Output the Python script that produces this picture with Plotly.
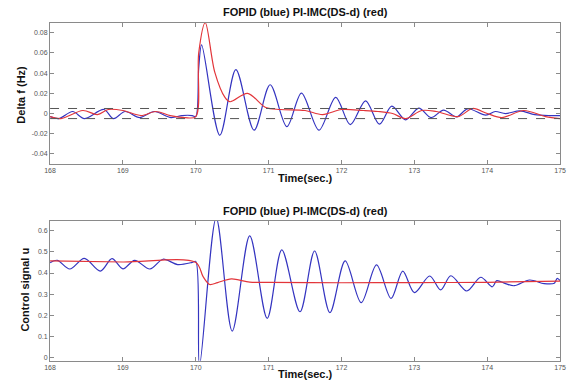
import plotly.graph_objects as go

# ---- data ----
top_blue_t = [168.0, 168.12, 168.31, 168.47, 168.74, 168.87, 169.03, 169.23, 169.43, 169.66, 169.81, 169.95, 170.0,
              170.04, 170.08, 170.33, 170.55, 170.80, 171.02, 171.25, 171.45, 171.69, 171.92, 172.12, 172.33, 172.52,
              172.69, 172.88, 173.06, 173.23, 173.40, 173.58, 173.73, 173.98, 174.11, 174.25, 174.45, 174.65, 174.85, 175.0]
top_blue_v = [-0.003, -0.005, 0.002, -0.005, 0.004, -0.005, 0.002, -0.004, 0.002, -0.004, -0.002, -0.002, -0.003,
              0.045, 0.068, -0.0215, 0.0435, -0.0165, 0.0285, -0.013, 0.0203, -0.0165, 0.016, -0.011, 0.0126, -0.0105,
              0.0073, -0.0063, 0.0054, -0.004, 0.0034, -0.0033, 0.0047, -0.0016, 0.002, 0.0, 0.0027, -0.001, -0.002, -0.002]

top_red_t = [168.0, 168.15, 168.45, 168.65, 168.8, 169.0, 169.25, 169.45, 169.65, 169.85, 170.0,
             170.04, 170.13, 170.26, 170.40, 170.47, 170.71, 170.96, 171.16, 171.5, 171.74, 172.0, 172.3, 172.5,
             172.7, 172.88, 173.1, 173.3, 173.6, 173.8, 174.0, 174.2, 174.5, 174.8, 175.0]
top_red_v = [-0.003, -0.005, 0.003, -0.001, 0.004, 0.003, -0.002, 0.002, -0.002, -0.004, -0.003,
             0.06, 0.09, 0.041, 0.016, 0.0117, 0.020, 0.006, 0.004, 0.003, -0.001, 0.004, 0.003, 0.002,
             0.0, -0.005, 0.003, 0.002, -0.003, 0.005, 0.0, -0.004, 0.003, -0.003, -0.005]

band_t = [168, 175]
band_hi = [0.005, 0.005]
band_lo = [-0.005, -0.005]

bot_blue_t = [168.0, 168.1, 168.27, 168.47, 168.69, 168.85, 169.0, 169.16, 169.37, 169.55, 169.75, 169.95, 170.0,
              170.05, 170.28, 170.50, 170.74, 170.98, 171.18, 171.43, 171.63, 171.84, 172.05, 172.27, 172.48, 172.68,
              172.84, 173.0, 173.21, 173.36, 173.50, 173.72, 173.91, 174.07, 174.13, 174.25, 174.37, 174.58, 174.78,
              174.92, 174.96, 175.0]
bot_blue_v = [0.449, 0.46, 0.419, 0.469, 0.409, 0.468, 0.42, 0.46, 0.419, 0.465, 0.44, 0.45, 0.455,
              -0.04, 0.66, 0.126, 0.575, 0.186, 0.509, 0.217, 0.504, 0.213, 0.457, 0.26, 0.438, 0.28,
              0.409, 0.307, 0.386, 0.32, 0.387, 0.315, 0.38, 0.335, 0.364, 0.35, 0.34, 0.367, 0.35,
              0.352, 0.375, 0.364]

bot_red_t = [168.0, 169.0, 170.0, 170.1, 170.19, 170.3, 170.49, 170.74, 171.0, 172.0, 173.0, 174.0, 175.0]
bot_red_v = [0.457, 0.452, 0.45, 0.383, 0.346, 0.355, 0.372, 0.357, 0.356, 0.354, 0.355, 0.356, 0.362]

x_ticks = [168, 169, 170, 171, 172, 173, 174, 175]
top_y_ticks = [-0.04, -0.02, 0, 0.02, 0.04, 0.06, 0.08]
top_y_labels = ["-0.04", "-0.02", "0", "0.02", "0.04", "0.06", "0.08"]
bot_y_ticks = [0, 0.1, 0.2, 0.3, 0.4, 0.5, 0.6]
bot_y_labels = ["0", "0.1", "0.2", "0.3", "0.4", "0.5", "0.6"]

title_text = "FOPID (blue) PI-IMC(DS-d) (red)"

BLUE = "#3434c0"
RED = "#e2353a"

fig = go.Figure()
fig.add_trace(go.Scatter(x=top_blue_t, y=top_blue_v, mode="lines", line=dict(color=BLUE, width=1.2, shape="spline", smoothing=0.9),
                         xaxis="x", yaxis="y", showlegend=False))
fig.add_trace(go.Scatter(x=top_red_t, y=top_red_v, mode="lines", line=dict(color=RED, width=1.2, shape="spline", smoothing=0.9),
                         xaxis="x", yaxis="y", showlegend=False))
fig.add_trace(go.Scatter(x=band_t, y=band_hi, mode="lines", line=dict(color="#555555", width=1, dash="dash"),
                         xaxis="x", yaxis="y", showlegend=False))
fig.add_trace(go.Scatter(x=band_t, y=band_lo, mode="lines", line=dict(color="#555555", width=1, dash="dash"),
                         xaxis="x", yaxis="y", showlegend=False))
fig.add_trace(go.Scatter(x=bot_blue_t, y=bot_blue_v, mode="lines", line=dict(color=BLUE, width=1.2, shape="spline", smoothing=0.9),
                         xaxis="x2", yaxis="y2", showlegend=False))
fig.add_trace(go.Scatter(x=bot_red_t, y=bot_red_v, mode="lines", line=dict(color=RED, width=1.2, shape="spline", smoothing=0.9),
                         xaxis="x2", yaxis="y2", showlegend=False))

W, H = 573, 383
xd = [45 / W, 566 / W]
top_dom = [1 - 164 / H, 1 - 22.7 / H]
bot_dom = [1 - 360.7 / H, 1 - 220.7 / H]

tickfont = dict(family="Liberation Sans, Arial, sans-serif", size=7, color="#555555")
axis_common = dict(showline=True, linecolor="#8a8a8a", linewidth=1, mirror="ticks", ticks="inside", ticklen=4,
                   tickcolor="#8a8a8a", showgrid=False, zeroline=False, tickfont=tickfont)

fig.update_layout(
    width=W, height=H, margin=dict(l=0, r=0, t=0, b=0),
    paper_bgcolor="white", plot_bgcolor="white",
    xaxis=dict(domain=xd, range=[168, 175], tickvals=x_ticks, anchor="y", **axis_common),
    yaxis=dict(domain=top_dom, range=[-0.05, 0.09], tickvals=top_y_ticks, ticktext=top_y_labels, anchor="x", **axis_common),
    xaxis2=dict(domain=xd, range=[168, 175], tickvals=x_ticks, anchor="y2", **axis_common),
    yaxis2=dict(domain=bot_dom, range=[-0.014, 0.647], tickvals=bot_y_ticks, ticktext=bot_y_labels, anchor="x2", **axis_common),
)

bold = dict(family="Liberation Sans, Arial, sans-serif", size=11, color="#111111")
cx = (45 + 566) / 2 / W
ann = [
    dict(text="<b>" + title_text + "</b>", x=cx, y=1 - 12 / H),
    dict(text="<b>" + title_text + "</b>", x=cx, y=1 - 211 / H),
    dict(text="<b>Time(sec.)</b>", x=cx, y=1 - 178 / H),
    dict(text="<b>Time(sec.)</b>", x=cx, y=1 - 374 / H),
    dict(text="<b>Delta f (Hz)</b>", x=15 / W, y=1 - 95 / H, textangle=-90),
    dict(text="<b>Control signal u</b>", x=19 / W, y=1 - 290 / H, textangle=-90),
]
for a in ann:
    fig.add_annotation(xref="paper", yref="paper", showarrow=False, font=bold, xanchor="center", yanchor="middle", **a)

fig.write_html("out.html", config={"displayModeBar": False},
               post_script="document.body.style.margin='0';document.body.style.overflow='hidden';")
